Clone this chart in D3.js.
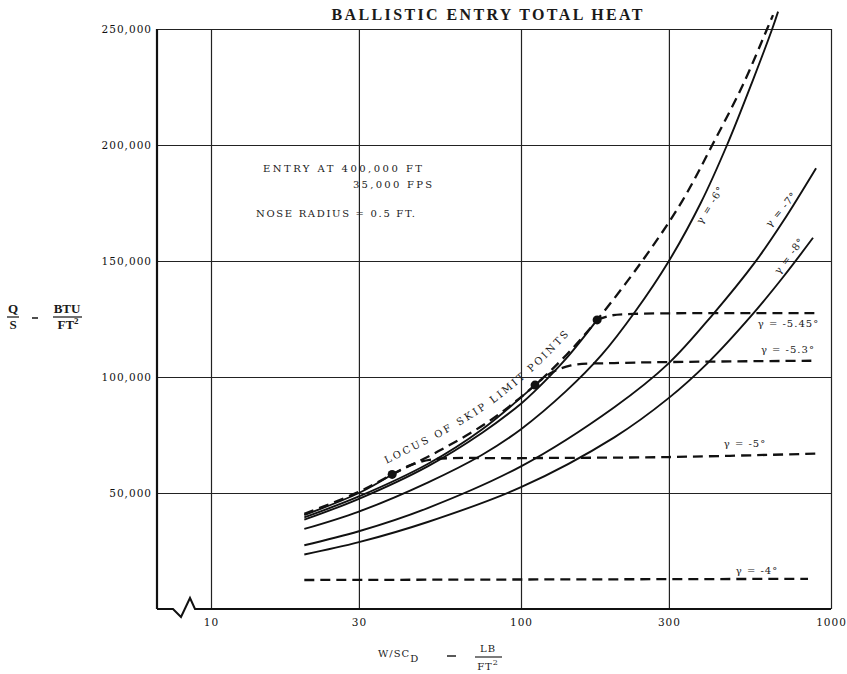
<!DOCTYPE html>
<html>
<head>
<meta charset="utf-8">
<script src="https://cdn.jsdelivr.net/npm/d3@7"></script>
<style>
	body { margin: 0; background: #fff; }
	svg { display: block; }
	.grid line { stroke: #222; stroke-width: 1.2; }
	.grid path { display: none; }
	.grid text { font-family: "DejaVu Serif", serif; font-size: 10.5px; fill: #111; letter-spacing: 1px; }
	.curve { fill: none; stroke: #111; stroke-width: 1.9; }
	.dash { fill: none; stroke: #111; stroke-width: 2.3; stroke-dasharray: 10, 6; }
	.note { font-family: "DejaVu Serif", serif; font-size: 10px; fill: #1a1a1a; letter-spacing: 1px; }
	.lbl { font-family: "Liberation Serif", serif; font-weight: bold; fill: #1a1a1a; }
</style>
</head>
<body>
<div id="chart"></div>
<script>
var xTicks = [10, 30, 100, 300, 1000];
var yTicks = [50000, 100000, 150000, 200000, 250000];

// [W/SCd, Q/S]
var gamma6 = [[20, 34500], [30, 42000], [50, 54500], [75, 66500], [100, 77500], [140, 94000], [182, 109500], [233, 128000], [300, 150000], [380, 175000], [462, 200000], [560, 228000], [646, 250000], [675, 257500]];
var gamma7 = [[20, 27500], [30, 33500], [50, 43500], [100, 61500], [200, 87000], [300, 106000], [413, 126500], [569, 149500], [700, 167000], [895, 190000]];
var gamma8 = [[20, 23500], [30, 28800], [50, 37500], [100, 52500], [200, 74000], [300, 91000], [400, 106000], [550, 126000], [700, 143000], [875, 160000]];
var gamma545 = [[20, 38500], [30, 47500], [50, 61500], [75, 76000], [100, 88500], [111, 94000], [140, 108000], [176, 124600]];
var gamma53 = [[20, 39500], [30, 48500], [50, 62500], [75, 77500], [111, 96500]];
var gamma5 = [[20, 40500], [30, 50000], [38.4, 58000]];

// dashed parts after skip limit
var skip545 = [[176, 124600], [195, 126500], [230, 127200], [908, 127500]];
var skip53 = [[111, 96500], [124, 101500], [145, 105000], [200, 106000], [876, 107000]];
var skip5 = [[38.4, 58000], [44, 62000], [52, 64500], [100, 65000], [300, 65500], [908, 67000]];
var gamma4 = [[20, 12500], [843, 13000]];

var locus = [[20, 41000], [30, 50500], [38.4, 58000], [55, 68500], [80, 81500], [111, 96500], [140, 109500], [176, 124600], [246, 150000], [330, 175500], [416, 200500], [520, 226000], [622, 250000], [650, 256000]];
var skipPoints = [[38.4, 58000], [111, 96500], [176, 124600]];

var curveNames = ["γ = -6°", "γ = -7°", "γ = -8°", "γ = -5.45°", "γ = -5.3°", "γ = -5°", "γ = -4°"];

var margin = {top: 29, right: 16, bottom: 65, left: 157};
var width = 847 - margin.left - margin.right;
var height = 674 - margin.top - margin.bottom;

var x = d3.scaleLog().domain([10, 1000]).range([54, width]);
var y = d3.scaleLinear().domain([0, 250000]).range([height, 0]);

var root = d3.select("#chart").append("svg")
	.attr("width", 847)
	.attr("height", 674);

var svg = root.append("g")
	.attr("transform", "translate(" + margin.left + "," + margin.top + ")");

// grid + tick labels
svg.append("g")
	.attr("class", "grid")
	.attr("transform", "translate(0," + height + ")")
	.call(d3.axisBottom(x).tickValues(xTicks).tickSize(-height).tickPadding(10).tickFormat(d3.format("d")));

svg.append("g")
	.attr("class", "grid")
	.call(d3.axisLeft(y).tickValues(yTicks).tickSize(-width).tickPadding(5).tickFormat(d3.format(",")));

// left frame and broken bottom axis
svg.append("line")
	.attr("x1", 0).attr("x2", 0).attr("y1", 0).attr("y2", height)
	.attr("stroke", "#111").attr("stroke-width", 2.2);

svg.append("path")
	.attr("d", "M0," + height + "H16L24," + (height + 8) + "L33," + (height - 11) + "L38," + height + "H" + width)
	.attr("fill", "none").attr("stroke", "#111").attr("stroke-width", 2);

var line = d3.line()
	.x(function (d) { return x(d[0]); })
	.y(function (d) { return y(d[1]); })
	.curve(d3.curveCatmullRom.alpha(0.5));

[gamma6, gamma7, gamma8, gamma545, gamma53, gamma5].forEach(function (s) {
	svg.append("path").datum(s).attr("class", "curve").attr("d", line);
});

[skip545, skip53, skip5].forEach(function (s) {
	svg.append("path").datum(s).attr("class", "dash").attr("d", line);
});

svg.append("path").datum(gamma4).attr("class", "dash")
	.attr("stroke-width", 2).attr("stroke-dasharray", "9,5").attr("d", line);

svg.append("path").datum(locus).attr("class", "dash")
	.attr("stroke-width", 2.7).attr("stroke-dasharray", "10,6").attr("d", line);

svg.selectAll("circle.skip")
	.data(skipPoints)
	.enter().append("circle")
	.attr("class", "skip")
	.attr("cx", function (d) { return x(d[0]); })
	.attr("cy", function (d) { return y(d[1]); })
	.attr("r", 4.5)
	.attr("fill", "#111");

// locus label: guide path offset along the normal of the locus
var pts = locus.filter(function (d) { return d[0] >= 38.4; }).map(function (d) { return [x(d[0]), y(d[1])]; });
var guide = pts.map(function (p, i) {
	var a = pts[Math.max(i - 1, 0)], b = pts[Math.min(i + 1, pts.length - 1)];
	var dx = b[0] - a[0], dy = b[1] - a[1], len = Math.sqrt(dx * dx + dy * dy);
	return [p[0] + 12 * dy / len, p[1] - 12 * dx / len];
});

svg.append("path")
	.attr("id", "locusText")
	.attr("fill", "none")
	.attr("d", d3.line().curve(d3.curveCatmullRom.alpha(0.5))(guide));

svg.append("text")
	.attr("class", "note")
	.attr("font-size", "13px")
	.append("textPath")
	.attr("href", "#locusText")
	.attr("startOffset", 0)
	.attr("textLength", 226)
	.attr("lengthAdjust", "spacing")
	.text("LOCUS OF SKIP LIMIT POINTS");

// curve names (anchor in data units, angle in degrees)
var namePos = [[410, 174000, -58], [695, 172000, -50], [738, 152000, -53], [729, 122800, 0], [726, 111600, 0], [528, 70700, 0], [577, 16000, 0]];

svg.selectAll("text.name")
	.data(curveNames)
	.enter().append("text")
	.attr("class", "note name")
	.attr("font-size", "10.5px")
	.attr("text-anchor", "middle")
	.attr("dominant-baseline", "middle")
	.attr("transform", function (d, i) {
		var p = namePos[i];
		return "translate(" + x(p[0]) + "," + y(p[1]) + ") rotate(" + p[2] + ")";
	})
	.text(function (d) { return d; });

// title and notes
root.append("text")
	.attr("class", "lbl")
	.attr("x", 487).attr("y", 20)
	.attr("text-anchor", "middle")
	.attr("font-size", "16px")
	.attr("textLength", 311)
	.text("BALLISTIC ENTRY TOTAL HEAT");

root.append("text").attr("class", "note").attr("x", 263).attr("y", 172).attr("font-size", "12px")
	.attr("textLength", 160).text("ENTRY AT 400,000 FT");
root.append("text").attr("class", "note").attr("x", 353).attr("y", 188).attr("font-size", "12px")
	.attr("textLength", 80).text("35,000 FPS");
root.append("text").attr("class", "note").attr("x", 256).attr("y", 217).attr("font-size", "12px")
	.attr("textLength", 160).text("NOSE RADIUS = 0.5 FT.");

// y axis title
var yl = root.append("g").attr("class", "lbl").attr("font-size", "13px").attr("text-anchor", "middle");
yl.append("text").attr("x", 13).attr("y", 313).text("Q");
yl.append("text").attr("x", 13).attr("y", 329).text("S");
yl.append("line").attr("x1", 7).attr("x2", 19).attr("y1", 317).attr("y2", 317).attr("stroke", "#222").attr("stroke-width", 1.3);
yl.append("line").attr("x1", 32).attr("x2", 38).attr("y1", 318).attr("y2", 318).attr("stroke", "#222").attr("stroke-width", 1.6);
yl.append("text").attr("x", 67).attr("y", 313).text("BTU");
yl.append("text").attr("x", 68).attr("y", 329).text("FT").append("tspan").attr("dy", -5).attr("font-size", "9px").text("2");
yl.append("line").attr("x1", 53).attr("x2", 82).attr("y1", 317).attr("y2", 317).attr("stroke", "#222").attr("stroke-width", 1.3);

// x axis title
var xl = root.append("g").attr("class", "note").attr("font-size", "11px");
xl.append("text").attr("x", 378).attr("y", 657).text("W/SC").append("tspan").attr("dy", 5).text("D");
xl.append("line").attr("x1", 447).attr("x2", 456).attr("y1", 656).attr("y2", 656).attr("stroke", "#222").attr("stroke-width", 1.5);
xl.append("text").attr("x", 488).attr("y", 652).attr("text-anchor", "middle").text("LB");
xl.append("text").attr("x", 488).attr("y", 670).attr("text-anchor", "middle").text("FT").append("tspan").attr("dy", -5).attr("font-size", "8px").text("2");
xl.append("line").attr("x1", 475).attr("x2", 502).attr("y1", 657).attr("y2", 657).attr("stroke", "#222").attr("stroke-width", 1.2);
</script>
</body>
</html>
